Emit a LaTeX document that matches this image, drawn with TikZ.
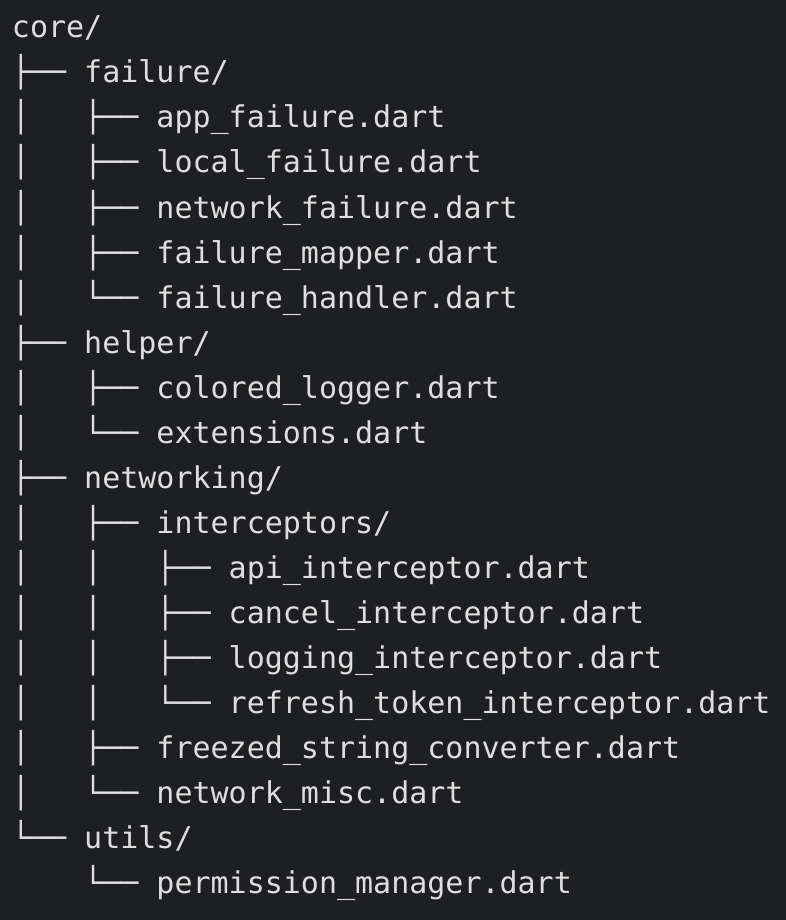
\documentclass[tikz,border=0pt]{standalone}
\usepackage{fontspec}
\newfontfamily\treemono{DejaVu Sans Mono}
\definecolor{bgc}{RGB}{30,31,34}
\definecolor{txc}{RGB}{222,222,222}
\begin{document}
\begin{tikzpicture}[x=1pt,y=-1pt,
  row/.style={anchor=base west,inner sep=0pt,outer sep=0pt,text=txc,font=\treemono\fontsize{30}{45}\selectfont}]
\fill[bgc] (0,0) rectangle (786,920);
\useasboundingbox (0,0) rectangle (786,920);
\node[row] (r0)  at (12,38+0*45)  {core/};
\node[row] (r1)  at (12,38+1*45)  {├──~failure/};
\node[row] (r2)  at (12,38+2*45)  {│~~~├──~app\_failure.dart};
\node[row] (r3)  at (12,38+3*45)  {│~~~├──~local\_failure.dart};
\node[row] (r4)  at (12,38+4*45)  {│~~~├──~network\_failure.dart};
\node[row] (r5)  at (12,38+5*45)  {│~~~├──~failure\_mapper.dart};
\node[row] (r6)  at (12,38+6*45)  {│~~~└──~failure\_handler.dart};
\node[row] (r7)  at (12,38+7*45)  {├──~helper/};
\node[row] (r8)  at (12,38+8*45)  {│~~~├──~colored\_logger.dart};
\node[row] (r9)  at (12,38+9*45)  {│~~~└──~extensions.dart};
\node[row] (r10) at (12,38+10*45) {├──~networking/};
\node[row] (r11) at (12,38+11*45) {│~~~├──~interceptors/};
\node[row] (r12) at (12,38+12*45) {│~~~│~~~├──~api\_interceptor.dart};
\node[row] (r13) at (12,38+13*45) {│~~~│~~~├──~cancel\_interceptor.dart};
\node[row] (r14) at (12,38+14*45) {│~~~│~~~├──~logging\_interceptor.dart};
\node[row] (r15) at (12,38+15*45) {│~~~│~~~└──~refresh\_token\_interceptor.dart};
\node[row] (r16) at (12,38+16*45) {│~~~├──~freezed\_string\_converter.dart};
\node[row] (r17) at (12,38+17*45) {│~~~└──~network\_misc.dart};
\node[row] (r18) at (12,38+18*45) {└──~utils/};
\node[row] (r19) at (12,38+19*45) {~~~~└──~permission\_manager.dart};
\end{tikzpicture}
\end{document}
